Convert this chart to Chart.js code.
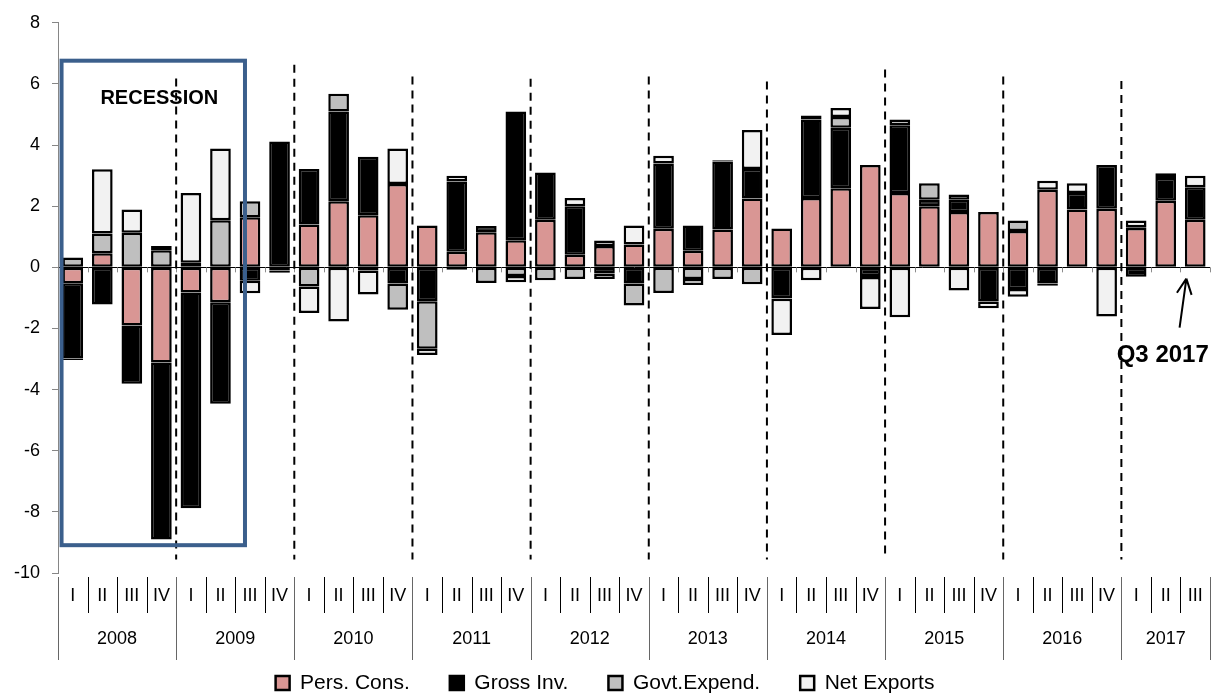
<!DOCTYPE html>
<html>
<head>
<meta charset="utf-8">
<script src="https://cdn.jsdelivr.net/npm/chart.js@4.4.1/dist/chart.umd.min.js"></script>
<style>
  html, body { margin: 0; padding: 0; background: #fff; }
  #wrap { width: 1217px; height: 695px; position: relative; }
</style>
</head>
<body>
<div id="wrap"><canvas id="gdp-chart"></canvas></div>
<script>
// Year groups and how many quarters each one has on the chart
const years = ['2008', '2009', '2010', '2011', '2012', '2013', '2014', '2015', '2016', '2017'];
const quartersPerYear = [4, 4, 4, 4, 4, 4, 4, 4, 4, 3];
const quarterNames = ['I', 'II', 'III', 'IV'];

// Contributions to real GDP growth (percentage points), 2008 Q1 .. 2017 Q3
const persCons = [-0.52, 0.46, -1.90, -3.11, -0.82, -1.14, 1.64, 0.02,
  1.40, 2.16, 1.70, 2.73, 1.37, 0.51, 1.15, 0.89,
  1.56, 0.41, 0.70, 0.75, 1.26, 0.54, 1.24, 2.25,
  1.27, 2.27, 2.59, 3.35, 2.43, 2.00, 1.81, 1.81,
  1.19, 2.54, 1.89, 1.92, 1.29, 2.18, 1.56];
const grossInv = [-2.46, -1.22, -1.91, -5.79, -7.06, -3.32, -0.44, 4.10,
  1.82, 2.94, 1.92, -0.53, -1.11, 2.30, 0.20, 4.21,
  1.54, 1.59, -0.20, -0.53, 2.14, 0.83, 2.22, 0.97,
  -1.01, 2.57, 1.98, -0.28, 2.22, 0.21, 0.40, -1.12,
  -0.71, -0.53, 0.54, 1.43, -0.31, 0.74, 1.06];
const govtExpend = [0.32, 0.65, 1.13, 0.56, 0.15, 1.54, 0.52, -0.10,
  -0.63, 0.58, -0.10, -0.86, -1.55, -0.08, -0.51, -0.28,
  -0.42, -0.38, -0.18, -0.72, -0.84, -0.38, -0.38, -0.55,
  -0.02, 0.13, 0.35, -0.04, 0.19, 0.54, 0.17, 0,
  0.34, -0.07, 0, 0, 0.02, 0, 0];
const netExports = [-0.05, 2.10, 0.76, 0.14, 2.28, 2.35, -0.41, -0.08,
  -0.86, -1.77, -0.79, 1.16, -0.21, 0.19, 0, -0.21,
  0, 0.27, 0.18, 0.62, 0.25, -0.20, 0.04, 1.27,
  -1.18, -0.42, 0.29, -1.04, -1.63, 0, -0.76, -0.22,
  -0.25, 0.29, 0.32, -1.61, 0.22, 0.16, 0.38];

const yMin = -10;
const yMax = 8;
const yStep = 2;

// Annotations, in data units (category index / value)
const recessionBox = { from: -0.38, to: 5.83, top: 6.76, bottom: -9.09 };
const yearLineTops = [6.18, 6.63, 6.24, 6.17, 6.24, 6.08, 6.47, 6.24, 6.1];
const yearLineBottom = -9.56;
const recessionLabel = { text: 'RECESSION', x: 2.93, y: 5.51 };
const latestLabel = { text: 'Q3 2017', x: 36.9, y: -2.88 };
const latestArrow = { fromX: 37.47, fromY: -1.97, toX: 37.7, toY: -0.37 };

// Build category labels from the year groups
const categories = [];
years.forEach((yr, i) => {
  for (let q = 0; q < quartersPerYear[i]; q++) {
    categories.push(yr + ' ' + quarterNames[q]);
  }
});

const FONT = "'Liberation Sans', Arial, Helvetica, sans-serif";
Chart.defaults.font.family = FONT;
Chart.defaults.color = '#000';

const overlay = {
  id: 'overlay',
  beforeDatasetsDraw(chart) {
    const ctx = chart.ctx;
    const xs = chart.scales.x;
    const ys = chart.scales.y;
    const w = xs.width / categories.length;
    const y0 = ys.getPixelForValue(0);
    // little tick marks hanging off the zero line
    ctx.save();
    ctx.strokeStyle = '#8c8c8c';
    ctx.lineWidth = 1;
    ctx.beginPath();
    for (let k = 1; k <= categories.length; k++) {
      const x = Math.round(xs.left + k * w) + 0.5;
      ctx.moveTo(x, y0);
      ctx.lineTo(x, y0 + 5);
    }
    ctx.stroke();
    ctx.restore();
  },
  afterDatasetsDraw(chart) {
    const ctx = chart.ctx;
    const xs = chart.scales.x;
    const ys = chart.scales.y;
    const w = xs.width / categories.length;
    const xAt = idx => xs.left + (idx + 0.5) * w;

    ctx.save();
    // dashed year boundaries
    ctx.strokeStyle = '#000';
    ctx.lineWidth = 2;
    ctx.setLineDash([8, 6]);
    let k = 0;
    for (let i = 0; i < years.length - 1; i++) {
      k += quartersPerYear[i];
      const x = xs.left + k * w;
      ctx.beginPath();
      ctx.moveTo(x, ys.getPixelForValue(yearLineTops[i]));
      ctx.lineTo(x, ys.getPixelForValue(yearLineBottom));
      ctx.stroke();
    }
    ctx.setLineDash([]);

    // recession box
    ctx.strokeStyle = '#3b5f8c';
    ctx.lineWidth = 4;
    const bx1 = xAt(recessionBox.from), bx2 = xAt(recessionBox.to);
    const by1 = ys.getPixelForValue(recessionBox.top), by2 = ys.getPixelForValue(recessionBox.bottom);
    ctx.strokeRect(bx1, by1, bx2 - bx1, by2 - by1);

    ctx.fillStyle = '#000';
    ctx.textAlign = 'center';
    ctx.textBaseline = 'middle';
    ctx.font = 'bold 20px ' + FONT;
    ctx.fillText(recessionLabel.text, xAt(recessionLabel.x), ys.getPixelForValue(recessionLabel.y));

    // Q3 2017 callout
    ctx.font = 'bold 24px ' + FONT;
    ctx.fillText(latestLabel.text, xAt(latestLabel.x), ys.getPixelForValue(latestLabel.y));
    const ax1 = xAt(latestArrow.fromX), ay1 = ys.getPixelForValue(latestArrow.fromY);
    const ax2 = xAt(latestArrow.toX), ay2 = ys.getPixelForValue(latestArrow.toY);
    ctx.strokeStyle = '#000';
    ctx.lineWidth = 2;
    ctx.beginPath();
    ctx.moveTo(ax1, ay1);
    ctx.lineTo(ax2, ay2);
    const ang = Math.atan2(ay2 - ay1, ax2 - ax1);
    const head = 17;
    ctx.moveTo(ax2, ay2);
    ctx.lineTo(ax2 - head * Math.cos(ang - 0.45), ay2 - head * Math.sin(ang - 0.45));
    ctx.moveTo(ax2, ay2);
    ctx.lineTo(ax2 - head * Math.cos(ang + 0.45), ay2 - head * Math.sin(ang + 0.45));
    ctx.stroke();
    ctx.restore();
  },
  afterDraw(chart) {
    // two-level category axis: quarters, then years
    const ctx = chart.ctx;
    const xs = chart.scales.x;
    const ys = chart.scales.y;
    const w = xs.width / categories.length;
    const base = ys.bottom;
    ctx.save();
    ctx.fillStyle = '#000';
    ctx.textAlign = 'center';
    ctx.textBaseline = 'middle';
    ctx.font = '18px ' + FONT;
    ctx.lineWidth = 1;
    ctx.strokeStyle = '#000';

    let k = 0;
    years.forEach((yr, i) => {
      const start = k;
      for (let q = 0; q < quartersPerYear[i]; q++) {
        const x = xs.left + (k + 0.5) * w;
        ctx.fillText(quarterNames[q], x, base + 23);
        if (q > 0) {
          const sx = Math.round(xs.left + k * w) + 0.5;
          ctx.beginPath();
          ctx.moveTo(sx, base + 4);
          ctx.lineTo(sx, base + 40);
          ctx.stroke();
        }
        k++;
      }
      ctx.fillText(yr, xs.left + (start + k) / 2 * w, base + 66);
    });
    // year separators (long)
    ctx.strokeStyle = '#666';
    k = 0;
    for (let i = 0; i <= years.length; i++) {
      const sx = Math.round(xs.left + k * w) + 0.5;
      ctx.beginPath();
      ctx.moveTo(sx, base + 4);
      ctx.lineTo(sx, base + 87);
      ctx.stroke();
      if (i < years.length) k += quartersPerYear[i];
    }
    ctx.restore();
  }
};

const legendShift = 8.5;

new Chart(document.getElementById('gdp-chart'), {
  type: 'bar',
  data: {
    labels: categories,
    datasets: [
      { label: 'Pers. Cons.', data: persCons, backgroundColor: '#d99694', borderColor: '#000' },
      { label: 'Gross Inv.', data: grossInv, backgroundColor: '#000', borderColor: '#000' },
      { label: 'Govt.Expend.', data: govtExpend, backgroundColor: '#bfbfbf', borderColor: '#000' },
      { label: 'Net Exports', data: netExports, backgroundColor: '#f2f2f2', borderColor: '#000' }
    ]
  },
  options: {
    responsive: true,
    maintainAspectRatio: false,
    animation: false,
    datasets: {
      bar: {
        borderWidth: 2.5,
        borderSkipped: false,
        barPercentage: 0.7,
        categoryPercentage: 1
      }
    },
    layout: { padding: { top: 21, right: 7, left: 0, bottom: -legendShift } },
    scales: {
      x: {
        stacked: true,
        grid: { display: false },
        border: { display: false },
        ticks: { display: false },
        afterFit: scale => {
          const lg = scale.chart.legend ? scale.chart.legend.height : 0;
          scale.height = scale.chart.height + legendShift - lg - 573;
        }
      },
      y: {
        stacked: true,
        min: yMin,
        max: yMax,
        ticks: { stepSize: yStep, font: { size: 18 }, color: '#000', padding: 12 },
        grid: {
          drawOnChartArea: true,
          color: c => (c.tick && c.tick.value === 0 ? '#000' : 'rgba(0,0,0,0)'),
          tickColor: '#868686',
          tickLength: 6
        },
        border: { color: '#868686' },
        afterFit: scale => { scale.width = 58; }
      }
    },
    plugins: {
      legend: {
        position: 'bottom',
        labels: {
          font: { size: 21 },
          color: '#000',
          boxWidth: 14,
          boxHeight: 14,
          padding: 40
        }
      },
      tooltip: { enabled: false }
    }
  },
  plugins: [overlay]
});
</script>
</body>
</html>
